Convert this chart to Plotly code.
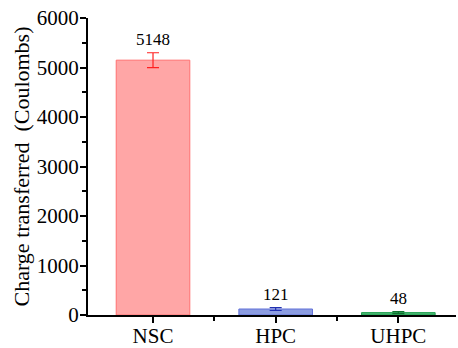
import plotly.graph_objects as go

categories = ["NSC", "HPC", "UHPC"]
values = [5148, 121, 48]
errors = [150, 30, 20]
fill_colors = ["rgba(255,150,150,0.85)", "rgba(120,140,220,0.85)", "rgba(40,170,90,0.85)"]
line_colors = ["#FF7070", "#6070D8", "#20A050"]
err_colors = ["#FF2020", "#2030B0", "#107030"]
y_ticks = [0, 1000, 2000, 3000, 4000, 5000, 6000]

font_family = "Times New Roman, Liberation Serif, serif"
xs = list(range(len(categories)))

fig = go.Figure()
for i, (c, v, e) in enumerate(zip(categories, values, errors)):
    fig.add_trace(go.Bar(
        x=[xs[i]], y=[v], width=0.6,
        marker=dict(color=fill_colors[i], line=dict(color=line_colors[i], width=1)),
        error_y=dict(type="data", array=[e], color=err_colors[i], thickness=1.2, width=6),
        showlegend=False,
    ))
    fig.add_annotation(x=xs[i], y=v + e, text=str(v), showarrow=False,
                       yanchor="bottom", yshift=2,
                       font=dict(family=font_family, size=17, color="black"))

fig.update_layout(
    width=458, height=348,
    margin=dict(l=88, r=2, t=18, b=33),
    paper_bgcolor="white", plot_bgcolor="white",
    font=dict(family=font_family, size=21, color="black"),
)
fig.update_xaxes(
    range=[-0.53, 2.47], tickvals=xs, ticktext=categories,
    showline=True, linecolor="black", linewidth=2,
    ticks="outside", ticklen=6, tickwidth=2, tickcolor="black",
    minor=dict(tickvals=[0.5, 1.5], ticks="outside", ticklen=4, tickwidth=2, tickcolor="black"),
    showgrid=False, zeroline=False, automargin=False,
    ticklabelstandoff=-5,
    tickfont=dict(family=font_family, size=21),
)
fig.update_yaxes(
    range=[0, 6000], tickvals=y_ticks,
    showline=True, linecolor="black", linewidth=2,
    ticks="outside", ticklen=6, tickwidth=2, tickcolor="black",
    minor=dict(dtick=500, ticks="outside", ticklen=4, tickwidth=2, tickcolor="black"),
    showgrid=False, zeroline=False, automargin=False,
    ticklabelstandoff=-3,
    title=dict(text="Charge transferred\u00a0 (Coulombs)", font=dict(family=font_family, size=22), standoff=1),
    tickfont=dict(family=font_family, size=21),
)

fig.write_html("out.html")
